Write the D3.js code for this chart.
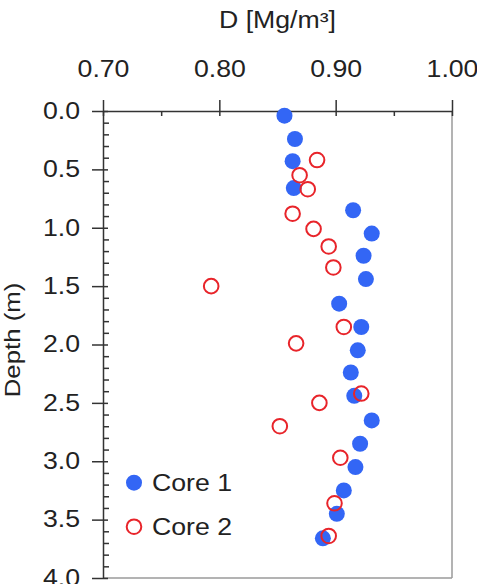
<!DOCTYPE html>
<html>
<head>
<meta charset="utf-8">
<script src="https://cdn.jsdelivr.net/npm/d3@7"></script>
<style>
  body { margin: 0; background: #fff; }
  svg text { font-family: "Liberation Sans", Arial, sans-serif; fill: #222; }
</style>
</head>
<body>
<div id="chart"></div>
<script>
// Core 1 (filled blue)
var core1_depth = [0.04, 0.24, 0.43, 0.66, 0.85, 1.05, 1.24, 1.44, 1.65, 1.85, 2.05, 2.24, 2.44, 2.65, 2.85, 3.05, 3.25, 3.45, 3.66];
var core1_D = [0.856, 0.865, 0.863, 0.864, 0.915, 0.931, 0.924, 0.926, 0.903, 0.922, 0.919, 0.913, 0.916, 0.931, 0.921, 0.917, 0.907, 0.901, 0.889];

// Core 2 (open red)
var core2_depth = [0.42, 0.55, 0.67, 0.88, 1.01, 1.16, 1.34, 1.50, 1.85, 1.99, 2.42, 2.50, 2.70, 2.97, 3.36, 3.64];
var core2_D = [0.884, 0.869, 0.876, 0.863, 0.881, 0.894, 0.898, 0.793, 0.907, 0.866, 0.922, 0.886, 0.852, 0.904, 0.899, 0.894];

var x_major = [0.70, 0.80, 0.90, 1.00];
var x_minor = [0.75, 0.85, 0.95];
var y_major = [0.0, 0.5, 1.0, 1.5, 2.0, 2.5, 3.0, 3.5, 4.0];
var series_names = ["Core 1", "Core 2"];

var width = 477, height = 584;
var plot = { left: 103, right: 452, top: 111, bottom: 578 };
var stretch = 1.16;   // glyphs in the reference are wider than Arial
var font_size = 23;

var svg = d3.select("#chart").append("svg")
    .attr("width", width)
    .attr("height", height);

var x = d3.scaleLinear().domain([0.70, 1.00]).range([plot.left, plot.right]);
var y = d3.scaleLinear().domain([0, 4]).range([plot.top, plot.bottom]);

// y minor ticks every 0.1 (skip majors)
var y_minor = d3.range(0, 40).map(function(i) { return i / 10; })
    .filter(function(v) { return Math.round(v * 10) % 5 !== 0; });

// Right and bottom frame (grey)
svg.append("line")
    .attr("x1", plot.right).attr("x2", plot.right)
    .attr("y1", plot.top).attr("y2", plot.bottom)
    .attr("stroke", "#9a9a9a").attr("stroke-width", 1.5);
svg.append("line")
    .attr("x1", plot.left).attr("x2", plot.right)
    .attr("y1", plot.bottom).attr("y2", plot.bottom)
    .attr("stroke", "#9a9a9a").attr("stroke-width", 1.5);

// Top axis
var x_axis_g = svg.append("g")
    .attr("transform", "translate(0," + plot.top + ")")
    .call(d3.axisTop(x).tickValues(x_major).tickSizeInner(11).tickSizeOuter(0)
        .tickPadding(23).tickFormat(d3.format(".2f")));
x_axis_g.selectAll(".tick line").attr("y1", 5);

svg.append("g")
    .attr("transform", "translate(0," + plot.top + ")")
    .call(d3.axisTop(x).tickValues(x_minor).tickSize(-5).tickFormat(""))
    .select(".domain").remove();

// Left axis
var y_axis_g = svg.append("g")
    .attr("transform", "translate(" + plot.left + ",0)")
    .call(d3.axisLeft(y).tickValues(y_major).tickSizeInner(11).tickSizeOuter(0)
        .tickPadding(12).tickFormat(d3.format(".1f")));
y_axis_g.selectAll(".tick line").attr("x1", 5);

svg.append("g")
    .attr("transform", "translate(" + plot.left + ",0)")
    .call(d3.axisLeft(y).tickValues(y_minor).tickSize(-6).tickFormat(""))
    .select(".domain").remove();

// Style axes
svg.selectAll(".domain, .tick line")
    .attr("stroke", "#333").attr("stroke-width", 1.5);
svg.selectAll(".tick text")
    .attr("font-size", font_size)
    .attr("fill", "#222");

// widen tick labels around their anchor
x_axis_g.selectAll(".tick text")
    .attr("transform", "scale(" + stretch + ",1)");
y_axis_g.selectAll(".tick text").each(function() {
    var t = d3.select(this);
    var tx = +t.attr("x");
    t.attr("x", 0).attr("transform", "translate(" + tx + ",0) scale(" + stretch + ",1)");
});

// Axis titles
svg.append("text")
    .attr("transform", "translate(" + ((plot.left + plot.right) / 2) + ",28) scale(" + stretch + ",1)")
    .attr("text-anchor", "middle")
    .attr("font-size", font_size)
    .text("D [Mg/m³]");

svg.append("text")
    .attr("transform", "translate(20,340) rotate(-90) scale(1.12,1)")
    .attr("text-anchor", "middle")
    .attr("font-size", font_size)
    .text("Depth (m)");

// Points
var core1 = core1_D.map(function(d, i) { return { D: d, depth: core1_depth[i] }; });
var core2 = core2_D.map(function(d, i) { return { D: d, depth: core2_depth[i] }; });

svg.append("g").selectAll("circle")
    .data(core1).join("circle")
    .attr("cx", function(d) { return x(d.D); })
    .attr("cy", function(d) { return y(d.depth); })
    .attr("r", 8)
    .attr("fill", "#3366f5");

svg.append("g").selectAll("circle")
    .data(core2).join("circle")
    .attr("cx", function(d) { return x(d.D); })
    .attr("cy", function(d) { return y(d.depth); })
    .attr("r", 7.3)
    .attr("fill", "none")
    .attr("stroke", "#e8242a")
    .attr("stroke-width", 2);

// Legend
var legend = svg.append("g");
var legend_y = [482.7, 526.7];

legend.append("circle")
    .attr("cx", 134).attr("cy", legend_y[0]).attr("r", 8)
    .attr("fill", "#3366f5");
legend.append("circle")
    .attr("cx", 134).attr("cy", legend_y[1]).attr("r", 7.3)
    .attr("fill", "none").attr("stroke", "#e8242a").attr("stroke-width", 2);

legend.selectAll("text")
    .data(series_names).join("text")
    .attr("transform", function(d, i) {
        return "translate(152," + (legend_y[i] + 8) + ") scale(" + stretch + ",1)";
    })
    .attr("font-size", font_size)
    .text(function(d) { return d; });
</script>
</body>
</html>
